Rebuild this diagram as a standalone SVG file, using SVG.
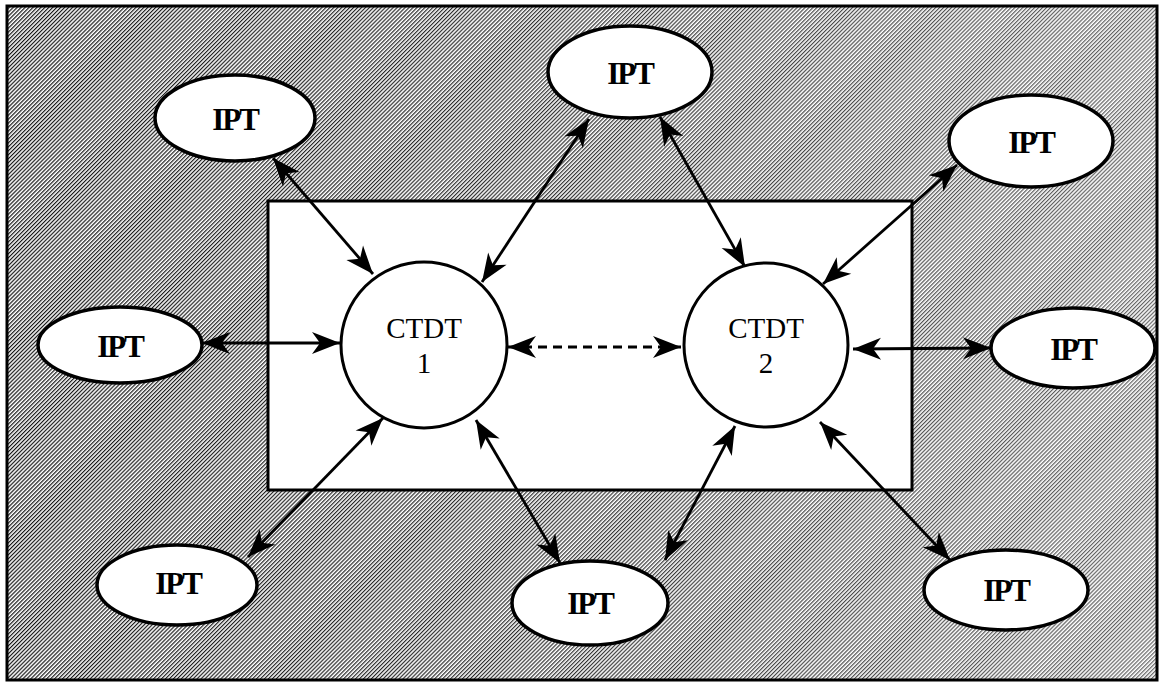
<svg xmlns="http://www.w3.org/2000/svg" width="1163" height="684" viewBox="0 0 1163 684">
  <style>
    .ipt { fill: #fff; stroke: #000; stroke-width: 3.5; }
    .ctdt { fill: #fff; stroke: #000; stroke-width: 3; }
    .lbl-ipt { font-family: "Liberation Serif", "Times New Roman", serif; font-weight: bold; font-size: 31px; letter-spacing: -2px; text-anchor: middle; fill: #000; }
    .lbl-ctdt { font-family: "Liberation Serif", "Times New Roman", serif; font-size: 29px; text-anchor: middle; fill: #000; }
    .link { stroke: #000; stroke-width: 2.8; fill: none; marker-start: url(#head); marker-end: url(#head); }
    .dashed { stroke-dasharray: 9 6; }
  </style>
  <defs>
    <!-- diagonal "/" hatch used for the outer zone -->
    <pattern id="hatch" patternUnits="userSpaceOnUse" width="2.8" height="8" patternTransform="rotate(45)">
      <rect width="2.8" height="8" fill="#fff"/>
      <rect width="1.2" height="8" fill="#000"/>
    </pattern>
    <linearGradient id="fade" x1="0" y1="0" x2="1" y2="0">
      <stop offset="0" stop-color="#fff" stop-opacity="0.08"/>
      <stop offset="0.5" stop-color="#fff" stop-opacity="0.2"/>
      <stop offset="1" stop-color="#fff" stop-opacity="0.4"/>
    </linearGradient>
    <!-- swept arrowhead, tip at the path end -->
    <marker id="head" viewBox="-30 -13 32 26" refX="0" refY="0" markerWidth="32" markerHeight="26" markerUnits="userSpaceOnUse" orient="auto-start-reverse">
      <path d="M0,0 L-28,-11 L-20,0 L-28,11 Z" fill="#000"/>
    </marker>
  </defs>

  <!-- outer zone -->
  <g id="outer-zone">
    <rect x="7" y="6" width="1150" height="674" fill="url(#hatch)"/>
    <rect x="7" y="6" width="1150" height="674" fill="url(#fade)"/>
    <rect x="7" y="6" width="1150" height="674" fill="none" stroke="#000" stroke-width="3"/>
  </g>

  <!-- inner zone -->
  <g id="inner-zone">
    <rect x="268" y="201" width="644" height="289" fill="#fff" stroke="#000" stroke-width="3"/>
  </g>

  <!-- connectors -->
  <g id="connectors">
    <line class="link" x1="273" y1="158" x2="373" y2="274"/>
    <line class="link" x1="589" y1="119" x2="482" y2="282"/>
    <line class="link" x1="660" y1="117" x2="745" y2="267"/>
    <line class="link" x1="957" y1="165" x2="823" y2="284"/>
    <line class="link" x1="202" y1="343" x2="340" y2="343"/>
    <line class="link dashed" x1="508" y1="347" x2="681" y2="347"/>
    <line class="link" x1="853" y1="349" x2="991" y2="348"/>
    <line class="link" x1="248" y1="557" x2="383" y2="418"/>
    <line class="link" x1="476" y1="420" x2="560" y2="563"/>
    <line class="link" x1="665" y1="560" x2="735" y2="426"/>
    <line class="link" x1="820" y1="422" x2="950" y2="560"/>
  </g>

  <!-- central terminals -->
  <g id="ctdt1">
    <circle class="ctdt" cx="424" cy="345" r="83"/>
    <text class="lbl-ctdt" x="424" y="338">CTDT</text>
    <text class="lbl-ctdt" x="424" y="373">1</text>
  </g>
  <g id="ctdt2">
    <circle class="ctdt" cx="766" cy="345" r="82"/>
    <text class="lbl-ctdt" x="766" y="338">CTDT</text>
    <text class="lbl-ctdt" x="766" y="373">2</text>
  </g>

  <!-- peripheral terminals -->
  <g id="ipt-top-left">
    <ellipse class="ipt" cx="235" cy="118" rx="80" ry="43"/>
    <text class="lbl-ipt" x="235" y="130">IPT</text>
  </g>
  <g id="ipt-top-center">
    <ellipse class="ipt" cx="630" cy="72" rx="82" ry="46"/>
    <text class="lbl-ipt" x="630" y="84">IPT</text>
  </g>
  <g id="ipt-top-right">
    <ellipse class="ipt" cx="1031" cy="141" rx="82" ry="46"/>
    <text class="lbl-ipt" x="1031" y="153">IPT</text>
  </g>
  <g id="ipt-left">
    <ellipse class="ipt" cx="120" cy="345" rx="82" ry="38"/>
    <text class="lbl-ipt" x="120" y="357">IPT</text>
  </g>
  <g id="ipt-right">
    <ellipse class="ipt" cx="1073" cy="348" rx="82" ry="40"/>
    <text class="lbl-ipt" x="1073" y="360">IPT</text>
  </g>
  <g id="ipt-bottom-left">
    <ellipse class="ipt" cx="177" cy="585" rx="80" ry="40"/>
    <text class="lbl-ipt" x="178" y="594">IPT</text>
  </g>
  <g id="ipt-bottom-center">
    <ellipse class="ipt" cx="590" cy="603" rx="78" ry="42"/>
    <text class="lbl-ipt" x="590" y="614">IPT</text>
  </g>
  <g id="ipt-bottom-right">
    <ellipse class="ipt" cx="1006" cy="590" rx="82" ry="40"/>
    <text class="lbl-ipt" x="1006" y="601">IPT</text>
  </g>
</svg>
